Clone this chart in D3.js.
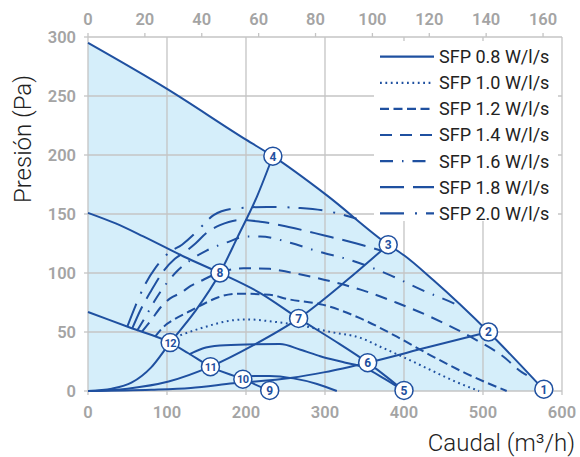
<!DOCTYPE html>
<html>
<head>
<meta charset="utf-8">
<script src="https://cdn.jsdelivr.net/npm/d3@7"></script>
<style>
  body { margin: 0; background: #fff; }
  svg { display: block; font-family: Roboto, "Noto Sans", sans-serif; }
</style>
</head>
<body>
<div id="chart"></div>
<script>
var vWidth = 580;
var vHeight = 457;

// Fan curves (m3/h, Pa)
var fanMax = [[0,295],[100,256],[200,213],[234,199],[302,166],[380,124],[400,115],[437,94],[507,50],[577,1]];
var fanMid = [[0,151],[35,142],[70,131],[121,114],[167,100],[218,83],[266.6,61.5],[311,43],[354,24],[378,12],[400,0]];
var fanLow = [[0,67],[52,54],[104,41],[127,32],[155,20.6],[196,10],[230,0]];
var fanE = [[128,31],[145,36],[167,38.5],[200,39.5],[243,39.8],[269,35],[294,29.5],[326,24],[349,20],[375,10.5],[400,0]];
var fanG = [[196,12.5],[230,12.8],[260,10.7],[290,6],[315,0]];

// System curves
var sysA = [[0,0],[30,2],[55,7],[80,20],[104,41],[135,67],[167,100],[189,130],[214,165],[234,199]];
var sysB = [[0,0],[50,2],[102,8],[155,20.6],[210,39],[266.6,61.5],[328,94],[380,124]];
var sysC = [[0,0],[80,1],[130,2.5],[184,6.5],[256,11],[300,16],[354,24],[430,37],[507,50]];

// SFP curves
var sfp10 = [[104,44],[142,53],[184,60],[201,60.7],[235,58.7],[270,55.5],[307,50],[345,45],[370,37.5],[400,28.5],[433,18],[465,8],[495,0]];
var sfp12 = [[85,46],[95,54],[110,61],[130,68],[150,75],[165,79.5],[190,82.5],[230,81.5],[252,78],[298,73],[345,61.5],[391,46],[433,30.5],[475,16],[530,0]];
var sfp14 = [[68,50],[80,60],[92,71],[104,78.5],[117,83],[130,89],[142,93],[167,100.5],[197,104],[230,103.5],[252,101],[307,93],[347,85.5],[390,75],[433,63],[484,46],[526,29],[549,16],[562,11]];
var sfp16 = [[62,51],[72,62],[84,76],[98,90],[112,101],[130,111],[150,119],[176,126],[201,131],[218,131],[256,125.6],[290,118.5],[332,111],[383,98],[423,85.5],[463,74.3],[470,72]];
var sfp18 = [[56,53],[66,68],[80,85],[96,102],[110,112],[123,118],[136,125],[150,134],[167,140.5],[193,145],[218,143.5],[254,139],[298,132],[340,125],[376,118]];
var sfp20 = [[50,55],[60,72],[72,90],[86,105],[102,117],[119,124],[136,134],[146,141],[159,149],[184,154.5],[227,156],[269,155],[302,152.5],[340,146]];

var sfpLabels = ["SFP 0.8 W/l/s","SFP 1.0 W/l/s","SFP 1.2 W/l/s","SFP 1.4 W/l/s","SFP 1.6 W/l/s","SFP 1.8 W/l/s","SFP 2.0 W/l/s"];
var sfpDash = ["none","1.8 3.6","9 4.5","12 8","13 9 1.5 9","24 9","24 11 2 9"];

// Working points
var pointIds = [1,2,3,4,5,6,7,8,9,10,11,12];
var pointXY = [[577,1.5],[507,50],[380,124],[234,199],[400,0.5],[354,24],[266.6,61.5],[167,100],[230,0.5],[196,10],[155,20.6],[104,41]];

var xTicks = [0,100,200,300,400,500,600];
var yTicks = [0,50,100,150,200,250,300];
var lsTicks = [0,20,40,60,80,100,120,140,160];

var blue = "#1f50a0";
var gridCol = "#c4c4c4";
var tickCol = "#a4a4a4";

var x = d3.scaleLinear().domain([0, 600]).range([88, 562]);
var xLs = d3.scaleLinear().domain([0, 600 / 3.6]).range([88, 562]);
var y = d3.scaleLinear().domain([0, 300]).range([391, 37]);

var svg = d3.select("#chart")
            .append("svg")
            .attr("width", vWidth)
            .attr("height", vHeight);

// Shaded operating area under the max curve
var area = d3.area()
    .x(d => x(d[0]))
    .y0(y(0))
    .y1(d => y(d[1]))
    .curve(d3.curveMonotoneX);

svg.append("path")
    .datum(fanMax)
    .attr("d", area)
    .attr("fill", "#d5eefa");

// Grid
var grid = svg.append("g").attr("stroke", gridCol).attr("stroke-width", 1.3);
grid.selectAll(".vx").data(xTicks).enter().append("line")
    .attr("x1", d => x(d)).attr("x2", d => x(d))
    .attr("y1", y(0)).attr("y2", y(300));
grid.selectAll(".hy").data(yTicks).enter().append("line")
    .attr("x1", x(0)).attr("x2", x(600))
    .attr("y1", d => y(d)).attr("y2", d => y(d));

// Tick marks
grid.selectAll(".tb").data(xTicks).enter().append("line")
    .attr("x1", d => x(d)).attr("x2", d => x(d))
    .attr("y1", y(0)).attr("y2", y(0) + 4);
grid.selectAll(".tl").data(yTicks).enter().append("line")
    .attr("x1", x(0) - 4).attr("x2", x(0))
    .attr("y1", d => y(d)).attr("y2", d => y(d));
grid.selectAll(".tt").data(lsTicks).enter().append("line")
    .attr("x1", d => xLs(d)).attr("x2", d => xLs(d))
    .attr("y1", y(300)).attr("y2", y(300) - 4);

// Tick labels
var tickText = svg.append("g")
    .attr("fill", tickCol)
    .attr("font-size", 16.5)
    .attr("font-weight", 600);

tickText.selectAll(".lx").data(xTicks).enter().append("text")
    .attr("x", d => x(d)).attr("y", 418)
    .attr("text-anchor", "middle")
    .text(d => d);
tickText.selectAll(".ly").data(yTicks).enter().append("text")
    .attr("x", 76).attr("y", d => y(d))
    .attr("dy", "0.36em")
    .attr("text-anchor", "end")
    .text(d => d);
tickText.selectAll(".lt").data(lsTicks).enter().append("text")
    .attr("x", d => xLs(d)).attr("y", 25)
    .attr("text-anchor", "middle")
    .text(d => d);

// Axis titles
svg.append("text")
    .attr("x", 575).attr("y", 451)
    .attr("text-anchor", "end")
    .attr("font-size", 24)
    .attr("font-weight", 300)
    .attr("fill", "#222")
    .text("Caudal (m³/h)");

svg.append("text")
    .attr("transform", "translate(31,139) rotate(-90)")
    .attr("text-anchor", "middle")
    .attr("font-size", 24)
    .attr("font-weight", 300)
    .attr("fill", "#222")
    .text("Presión (Pa)");

// Curves
var line = d3.line()
    .x(d => x(d[0]))
    .y(d => y(d[1]))
    .curve(d3.curveMonotoneX);

var curves = [
  {pts: sfp20, dash: sfpDash[6]},
  {pts: sfp18, dash: sfpDash[5]},
  {pts: sfp16, dash: sfpDash[4]},
  {pts: sfp14, dash: sfpDash[3]},
  {pts: sfp12, dash: sfpDash[2]},
  {pts: sfp10, dash: sfpDash[1]},
  {pts: fanE, dash: "none"},
  {pts: fanG, dash: "none"},
  {pts: sysA, dash: "none"},
  {pts: sysB, dash: "none"},
  {pts: sysC, dash: "none"},
  {pts: fanLow, dash: "none"},
  {pts: fanMid, dash: "none"},
  {pts: fanMax, dash: "none"}
];

svg.append("g").selectAll("path").data(curves).enter().append("path")
    .attr("d", d => line(d.pts))
    .attr("fill", "none")
    .attr("stroke", blue)
    .attr("stroke-width", 2)
    .attr("stroke-dasharray", d => d.dash);

// Legend
var legend = svg.append("g");
legend.append("rect")
    .attr("x", 374).attr("y", 41)
    .attr("width", 184).attr("height", 180)
    .attr("fill", "#fff");

var rows = legend.selectAll(".row").data(sfpLabels).enter().append("g")
    .attr("transform", (d, i) => "translate(0," + (56.7 + i * 26.1) + ")");
rows.append("line")
    .attr("x1", 380).attr("x2", 434)
    .attr("stroke", blue)
    .attr("stroke-width", 2.2)
    .attr("stroke-dasharray", (d, i) => sfpDash[i]);
rows.append("text")
    .attr("x", 439).attr("dy", "0.36em")
    .attr("font-size", 18)
    .attr("fill", "#222")
    .text(d => d);

// Numbered points
var pts = svg.append("g").selectAll("g").data(pointIds).enter().append("g")
    .attr("transform", (d, i) => "translate(" + x(pointXY[i][0]) + "," + y(pointXY[i][1]) + ")");
pts.append("circle")
    .attr("r", 9)
    .attr("fill", "#fff")
    .attr("stroke", blue)
    .attr("stroke-width", 1.5);
pts.append("text")
    .attr("text-anchor", "middle")
    .attr("dy", "0.36em")
    .attr("font-size", d => d > 9 ? 11 : 12)
    .attr("font-weight", "bold")
    .attr("letter-spacing", d => d > 9 ? -0.6 : 0)
    .attr("fill", blue)
    .text(d => d);
</script>
</body>
</html>
